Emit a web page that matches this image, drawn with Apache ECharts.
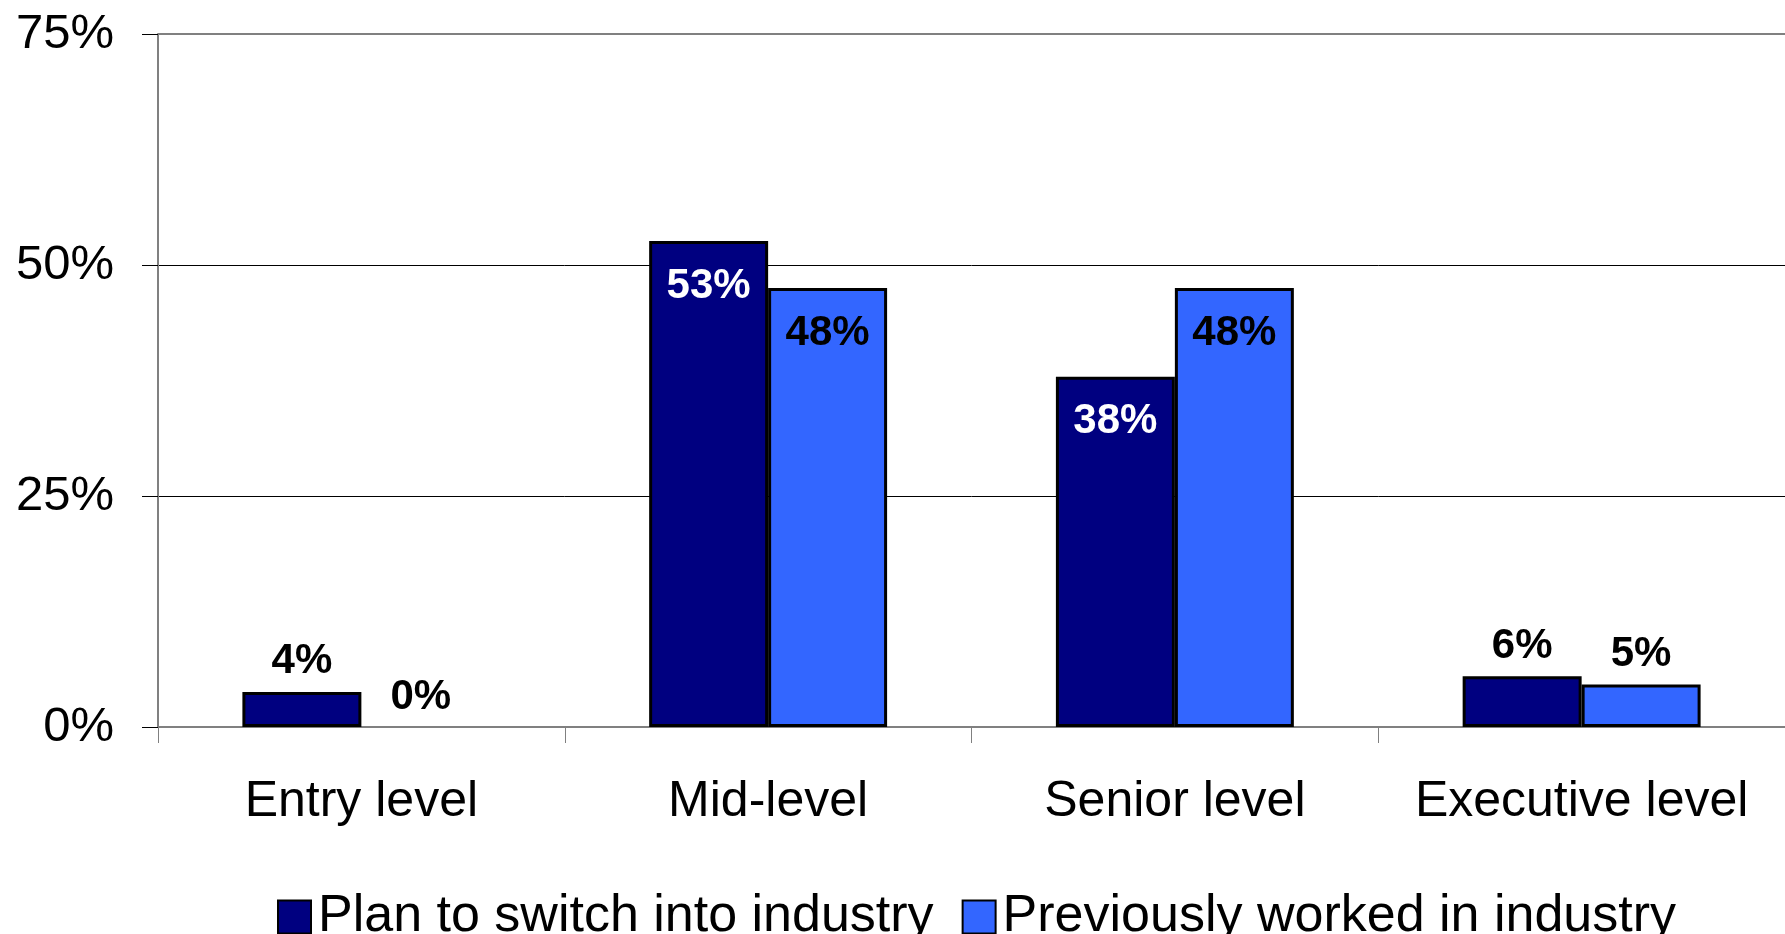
<!DOCTYPE html>
<html>
<head>
<meta charset="utf-8">
<script src="https://cdn.jsdelivr.net/npm/echarts@6/dist/echarts.min.js"></script>
<style>
html,body{margin:0;padding:0;background:#fff;}
#c{width:1785px;height:934px;}
</style>
</head>
<body>
<div id="c"></div>
<script>
var categories = ['Entry level', 'Mid-level', 'Senior level', 'Executive level'];
var seriesNames = ['Plan to switch into industry', 'Previously worked in industry'];
var planValues = [3.8, 52.6, 37.9, 5.5];
var prevValues = [0, 47.5, 47.5, 4.6];
var yTicks = [0, 25, 50, 75];

var FONT = '"Liberation Sans", Arial, sans-serif';

function mkData(vals, insideColor) {
  return vals.map(function (v) {
    var inside = v > 20;
    return {
      value: v,
      itemStyle: v === 0 ? {borderWidth: 0} : undefined,
      label: {
        position: inside ? 'insideTop' : 'top',
        distance: inside ? 24 : 9,
        color: inside ? insideColor : '#000'
      }
    };
  });
}

var labelBase = {
  show: true,
  fontFamily: FONT,
  fontWeight: 'bold',
  fontSize: 42,
  formatter: function (p) { return Math.round(p.value) + '%'; }
};

var chart = echarts.init(document.getElementById('c'), null, {renderer: 'canvas'});
chart.setOption({
  animation: false,
  backgroundColor: '#fff',
  grid: {left: 158, top: 34, right: -6, bottom: 207, containLabel: false},
  legend: {
    data: seriesNames,
    left: 272,
    top: 886,
    itemWidth: 33,
    itemHeight: 33,
    itemGap: 28,
    icon: 'rect',
    textStyle: {fontFamily: FONT, fontSize: 52, color: '#000', padding: [0, 0, 0, 2]}
  },
  xAxis: {
    type: 'category',
    data: categories,
    axisLine: {lineStyle: {color: '#808080', width: 2}},
    axisTick: {show: true, interval: 0, length: 16, lineStyle: {color: '#808080', width: 1}},
    axisLabel: {interval: 0, fontFamily: FONT, fontSize: 50, color: '#000', margin: 50}
  },
  yAxis: {
    type: 'value',
    min: yTicks[0],
    max: yTicks[yTicks.length - 1],
    interval: 25,
    axisLine: {show: true, lineStyle: {color: '#808080', width: 2}},
    axisTick: {show: true, length: 16, lineStyle: {color: '#000', width: 1}},
    axisLabel: {fontFamily: FONT, fontSize: 49, color: '#000', margin: 44,
      formatter: function (v) { return v + '%'; }},
    splitLine: {show: true, lineStyle: {color: '#000', width: 1}}
  },
  series: [
    {
      name: seriesNames[0],
      type: 'bar',
      data: mkData(planValues, '#fff'),
      barGap: '0%',
      barCategoryGap: '41.5%',
      itemStyle: {color: '#000080', borderColor: '#000', borderWidth: 3},
      label: labelBase,
      markLine: {
        silent: true,
        symbol: 'none',
        label: {show: false},
        lineStyle: {color: '#808080', width: 2, type: 'solid'},
        data: [{yAxis: yTicks[yTicks.length - 1]}]
      }
    },
    {
      name: seriesNames[1],
      type: 'bar',
      data: mkData(prevValues, '#000'),
      barGap: '0%',
      barCategoryGap: '41.5%',
      itemStyle: {color: '#3366FF', borderColor: '#000', borderWidth: 3},
      label: labelBase
    }
  ]
});
</script>
</body>
</html>
